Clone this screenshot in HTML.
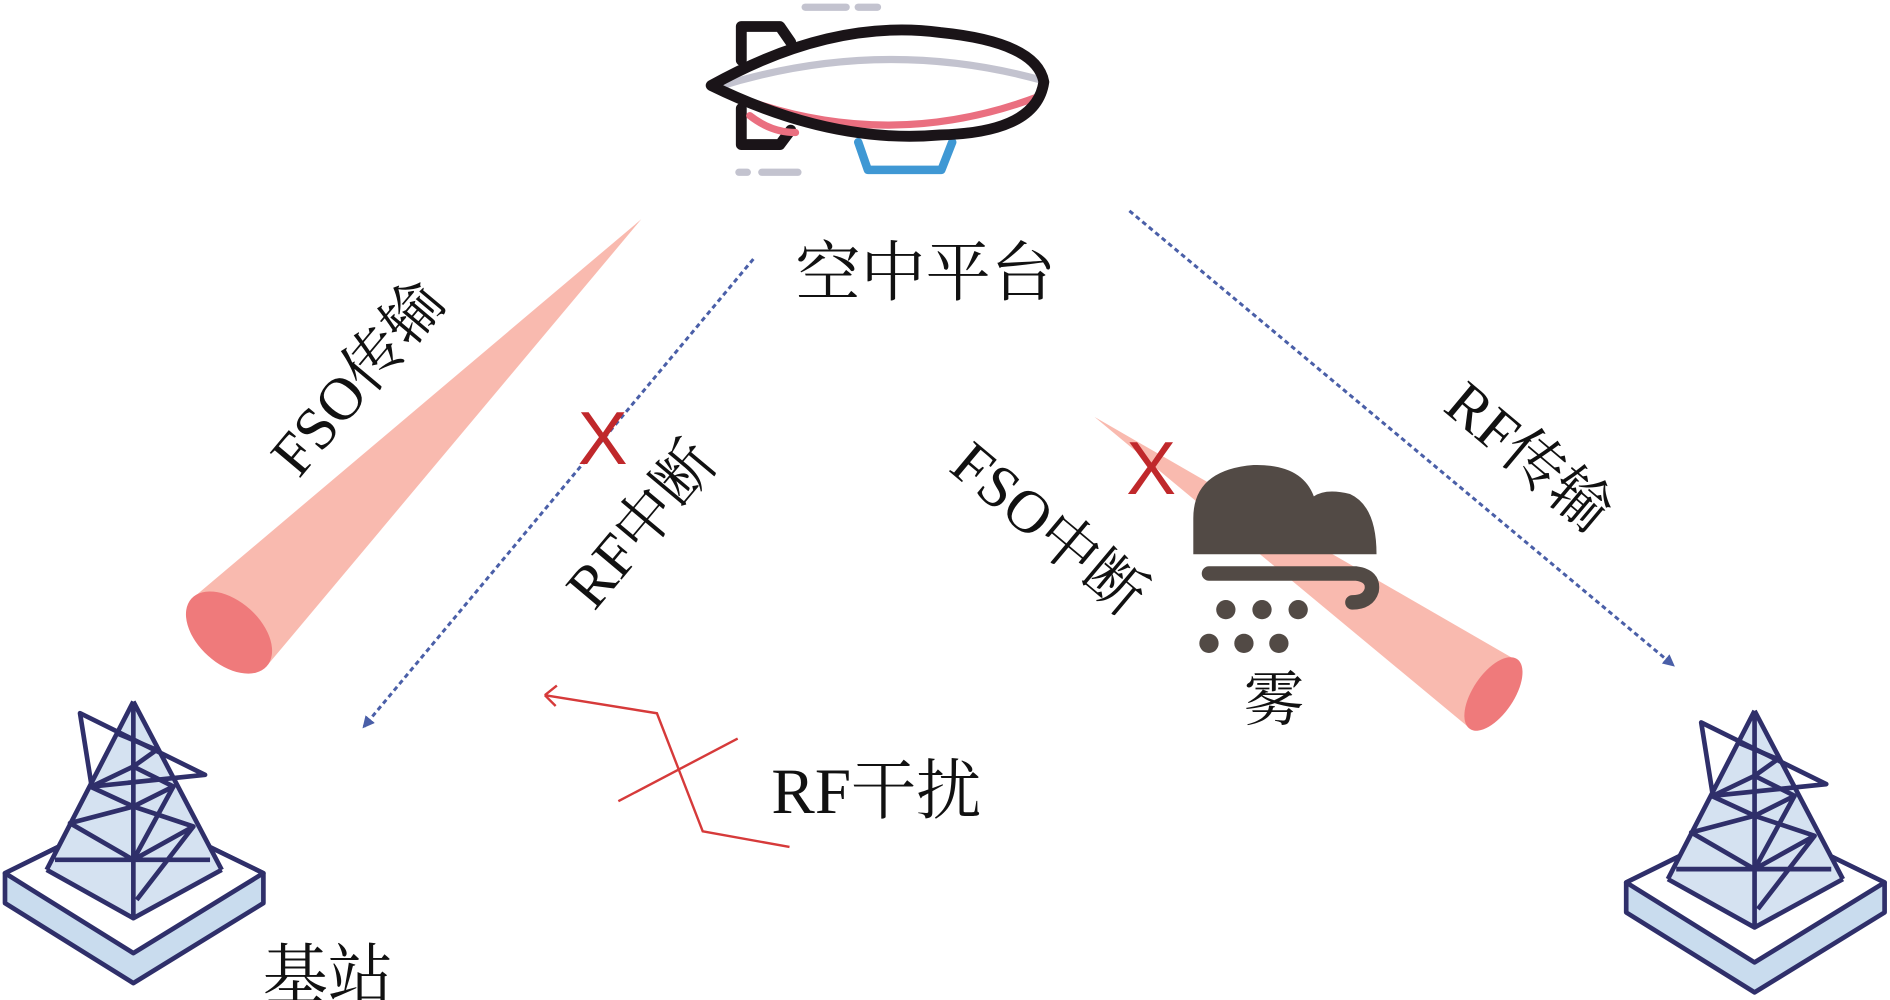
<!DOCTYPE html>
<html><head><meta charset="utf-8"><style>
html,body{margin:0;padding:0;background:#fff;}
svg{display:block}
text{font-family:"Liberation Serif","Noto Serif CJK SC",serif;fill:#111;}
</style></head><body>
<svg width="1890" height="1000" viewBox="0 0 1568 830" preserveAspectRatio="none" xmlns="http://www.w3.org/2000/svg">
<defs>
<marker id="ar" markerWidth="10" markerHeight="10" refX="8" refY="5" orient="auto" markerUnits="userSpaceOnUse"><path d="M0,0 L10,5 L0,10 z" fill="#4a5fa8"/></marker>
<g id="tower">
 <path d="M15,580 L400,390 L790,580 L790,670 L400,910 L15,670 Z" fill="#c9dcee" stroke="#2f2f6a" stroke-width="14" stroke-linejoin="round"/>
 <path d="M15,580 L400,390 L790,580 L400,820 Z" fill="#fff" stroke="#2f2f6a" stroke-width="14" stroke-linejoin="round"/>
 <path d="M400,65 L140,570 L400,715 L665,570 Z" fill="#d5e2f1"/>
 <g stroke="#2f2f6a" stroke-width="14" fill="none" stroke-linejoin="round">
  <path d="M400,65 L140,570 M400,65 L665,570 M400,65 L400,715 M140,570 L400,715 L665,570"/>
  <path d="M240,100 L615,285 L275,320 Z"/>
  <path d="M350,160 L470,210 L400,260 L520,320 L400,380 L580,440 L400,540 L630,540"/>
  <path d="M270,320 L400,380 L210,430 L400,540 L165,540 M400,260 L275,320 M410,660 L580,440 M400,540 L520,320"/>
 </g>
</g>
</defs>

<!-- blimp -->
<g stroke-linecap="round">
 <line x1="668" y1="6" x2="702" y2="6" stroke="#c3c3cf" stroke-width="6"/>
 <line x1="712" y1="6" x2="728" y2="6" stroke="#c3c3cf" stroke-width="6"/>
 <line x1="613" y1="143" x2="620" y2="143" stroke="#c3c3cf" stroke-width="6"/>
 <line x1="632" y1="143" x2="662" y2="143" stroke="#c3c3cf" stroke-width="6"/>
 <path d="M712,118 L720,141 L781,141 L790,118" fill="none" stroke="#3f98d4" stroke-width="7" stroke-linejoin="round"/>
 <path d="M615,50 L615,22 L647,22 L656,35 M615,90 L615,120 L647,120 L656,108" fill="none" stroke="#1a1418" stroke-width="9" stroke-linejoin="round"/>
 <path d="M622,96 Q640,110 660,110" stroke="#ea6f80" stroke-width="6" fill="none"/>
 <path d="M596,72 Q730,30 862,66" stroke="#c3c3cf" stroke-width="6" fill="none"/>
 <path d="M598,75 Q730,130 862,80" stroke="#ea6f80" stroke-width="6" fill="none"/>
 <path d="M590,71 Q690,15 780,27 Q860,35 866,68 Q860,110 780,112 Q690,120 590,71 Z" fill="none" stroke="#1a1418" stroke-width="9" stroke-linejoin="round"/>
</g>
<text x="660" y="245" font-size="54">空中平台</text>

<!-- left beam -->
<path d="M532,182 L158,498 L222,552 Z" fill="#f9baaf"/>
<ellipse cx="190" cy="525" rx="26" ry="42" transform="rotate(-48 190 525)" fill="#ef7a7b"/>
<text transform="translate(248,398) rotate(-50)" font-size="50">FSO传输</text>

<!-- left dashed -->
<line x1="625" y1="215" x2="302" y2="603" stroke="#4a5fa8" stroke-width="2.5" stroke-dasharray="4,3" marker-end="url(#ar)"/>
<text x="500" y="385" font-size="62" text-anchor="middle" style="fill:#c0282b;font-family:'Liberation Sans',sans-serif">X</text>
<text transform="translate(493,508) rotate(-50)" font-size="50">RF中断</text>

<!-- right dashed -->
<line x1="937" y1="175" x2="1388" y2="552" stroke="#4a5fa8" stroke-width="2.5" stroke-dasharray="4,3" marker-end="url(#ar)"/>
<text transform="translate(1196,340) rotate(40)" font-size="50">RF传输</text>

<!-- right beam -->
<path d="M908,346 L1220,605 L1258,548 Z" fill="#f9baaf"/>
<ellipse cx="1239" cy="576" rx="17" ry="35" transform="rotate(34 1239 576)" fill="#ef7a7b"/>
<text x="955" y="410" font-size="62" text-anchor="middle" style="fill:#c0282b;font-family:'Liberation Sans',sans-serif">X</text>
<text transform="translate(786,390) rotate(40)" font-size="50">FSO中断</text>

<!-- cloud -->
<g fill="#524a45">
 <path d="M990,460 L990,430 Q990,390 1040,386 Q1080,385 1090,412 Q1100,405 1120,410 Q1142,420 1142,460 Z"/>
 <circle cx="1017" cy="506" r="8"/><circle cx="1047" cy="506" r="8"/><circle cx="1077" cy="506" r="8"/>
 <circle cx="1003" cy="534" r="8"/><circle cx="1032" cy="534" r="8"/><circle cx="1061" cy="534" r="8"/>
</g>
<path d="M1003,476 L1125,476 Q1140,478 1138,490 Q1135,500 1122,500" fill="none" stroke="#524a45" stroke-width="12" stroke-linecap="round"/>
<text x="1032" y="598" font-size="50">雾</text>

<!-- RF interference -->
<g stroke="#d63a3a" stroke-width="2" fill="none">
 <path d="M452,577 L545,592 L583,690 L655,703"/>
 <path d="M452,577 L462,569 M452,577 L461,586"/>
 <path d="M513,665 L612,613"/>
</g>
<text x="640" y="675" font-size="54">RF干扰</text>

<!-- towers -->
<use href="#tower" transform="translate(0,564.3) scale(0.2766)"/>
<use href="#tower" transform="translate(1345,572) scale(0.2766)"/>
<text x="218" y="828" font-size="54">基站</text>
</svg>
</body></html>
